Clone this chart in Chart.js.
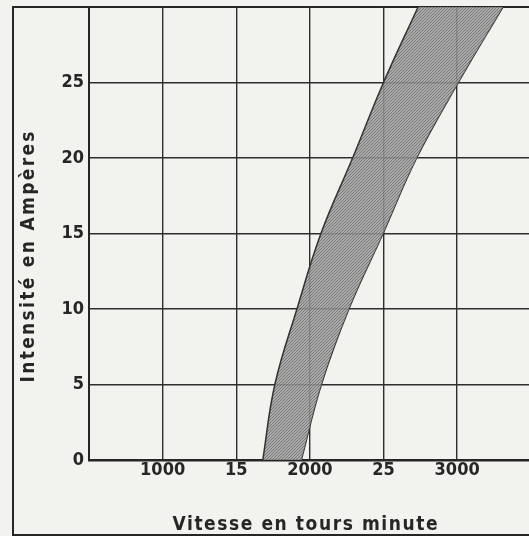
<!DOCTYPE html>
<html>
<head>
<meta charset="utf-8">
<script src="https://cdn.jsdelivr.net/npm/chart.js@4.4.1/dist/chart.umd.min.js"></script>
<style>
  html, body { margin: 0; padding: 0; background: #f2f2ef; }
  #wrap { width: 529px; height: 536px; }
</style>
</head>
<body>
<div id="wrap"><canvas id="graphe" width="529" height="536"></canvas></div>
<script>
// valeurs
const intensite = [0, 5, 10, 15, 20, 25, 30];
const vitesseMin = [1680, 1762, 1912, 2075, 2290, 2500, 2735];
const vitesseMax = [1942, 2078, 2265, 2497, 2725, 3008, 3311];
const xTicks = [1000, 1500, 2000, 2500, 3000];
const xTickLabels = ["1000", "15", "2000", "25", "3000"];
const yTicks = [0, 5, 10, 15, 20, 25];
const titreX = "Vitesse en tours minute";
const titreY = "Intensité en Ampères";

const police = '"DejaVu Sans Condensed", "DejaVu Sans", sans-serif';
const encre = "#262626";

function hachures() {
  const p = document.createElement("canvas");
  p.width = 3;
  p.height = 3;
  const c = p.getContext("2d");
  c.fillStyle = "rgba(160,160,160,0.85)";
  c.fillRect(0, 0, 3, 3);
  c.strokeStyle = "rgba(80,80,80,0.75)";
  c.lineWidth = 0.8;
  c.beginPath();
  c.moveTo(0, 3); c.lineTo(3, 0);
  c.moveTo(-1, 1); c.lineTo(1, -1);
  c.moveTo(2, 4); c.lineTo(4, 2);
  c.stroke();
  return c.createPattern(p, "repeat");
}

function texteEspace(ctx, txt, cx, cy, largeur) {
  ctx.letterSpacing = "0px";
  const w = ctx.measureText(txt).width;
  const esp = (largeur - w) / (txt.length - 1);
  ctx.letterSpacing = esp + "px";
  ctx.textAlign = "left";
  ctx.textBaseline = "middle";
  ctx.fillText(txt, cx - largeur / 2, cy);
  ctx.letterSpacing = "0px";
}

const cadre = {
  id: "cadre",
  beforeDraw(chart) {
    const ctx = chart.ctx;
    ctx.save();
    ctx.fillStyle = "#f2f2ef";
    ctx.fillRect(0, 0, chart.width, chart.height);
    ctx.strokeStyle = encre;
    ctx.lineWidth = 2;
    ctx.beginPath();
    ctx.moveTo(13, 536); ctx.lineTo(13, 7); ctx.lineTo(chart.width, 7);
    ctx.moveTo(13, 535); ctx.lineTo(chart.width, 535);
    ctx.stroke();
    ctx.restore();
  },
  afterDraw(chart) {
    const ctx = chart.ctx;
    ctx.save();
    ctx.fillStyle = encre;
    ctx.font = "bold 19px " + police;
    texteEspace(ctx, titreX, 305, 525, 265);
    ctx.translate(29, 257);
    ctx.rotate(-Math.PI / 2);
    texteEspace(ctx, titreY, 0, 0, 251);
    ctx.restore();
  }
};

new Chart(document.getElementById("graphe"), {
  type: "line",
  data: {
    datasets: [
      {
        data: intensite.map((y, i) => ({ x: vitesseMin[i], y: y })),
        borderColor: "#333",
        borderWidth: 1.5,
        pointRadius: 0,
        tension: 0.4,
        fill: "+1",
        backgroundColor: hachures()
      },
      {
        data: intensite.map((y, i) => ({ x: vitesseMax[i], y: y })),
        borderColor: "#333",
        borderWidth: 1.5,
        pointRadius: 0,
        tension: 0.4,
        fill: false
      }
    ]
  },
  options: {
    indexAxis: "y",
    responsive: false,
    devicePixelRatio: 1,
    animation: false,
    layout: { padding: { top: 7, left: 0, right: 0, bottom: 0 } },
    plugins: { legend: { display: false }, tooltip: { enabled: false } },
    scales: {
      x: {
        type: "linear",
        position: "bottom",
        min: 500,
        max: 3488,
        afterBuildTicks: s => { s.ticks = xTicks.map(v => ({ value: v })); },
        afterFit: s => { s.height = 76; s.paddingLeft = 0; s.paddingRight = 0; },
        grid: { color: "#2e2e2e", lineWidth: 1.4, drawTicks: false },
        border: { color: encre, width: 2.5 },
        ticks: {
          padding: 0,
          color: encre,
          font: { family: police, size: 18, weight: "bold" },
          maxRotation: 0,
          callback: v => xTickLabels[xTicks.indexOf(v)]
        }
      },
      y: {
        type: "linear",
        min: 0,
        max: 30,
        afterBuildTicks: s => { s.ticks = yTicks.map(v => ({ value: v })); },
        afterFit: s => { s.width = 89; s.paddingTop = 0; s.paddingBottom = 0; },
        grid: { color: "#2e2e2e", lineWidth: 1.4, drawTicks: false },
        border: { color: encre, width: 2 },
        ticks: {
          padding: 5,
          color: encre,
          font: { family: police, size: 18, weight: "bold" },
          callback: v => String(v)
        }
      }
    }
  },
  plugins: [cadre]
});
</script>
</body>
</html>
